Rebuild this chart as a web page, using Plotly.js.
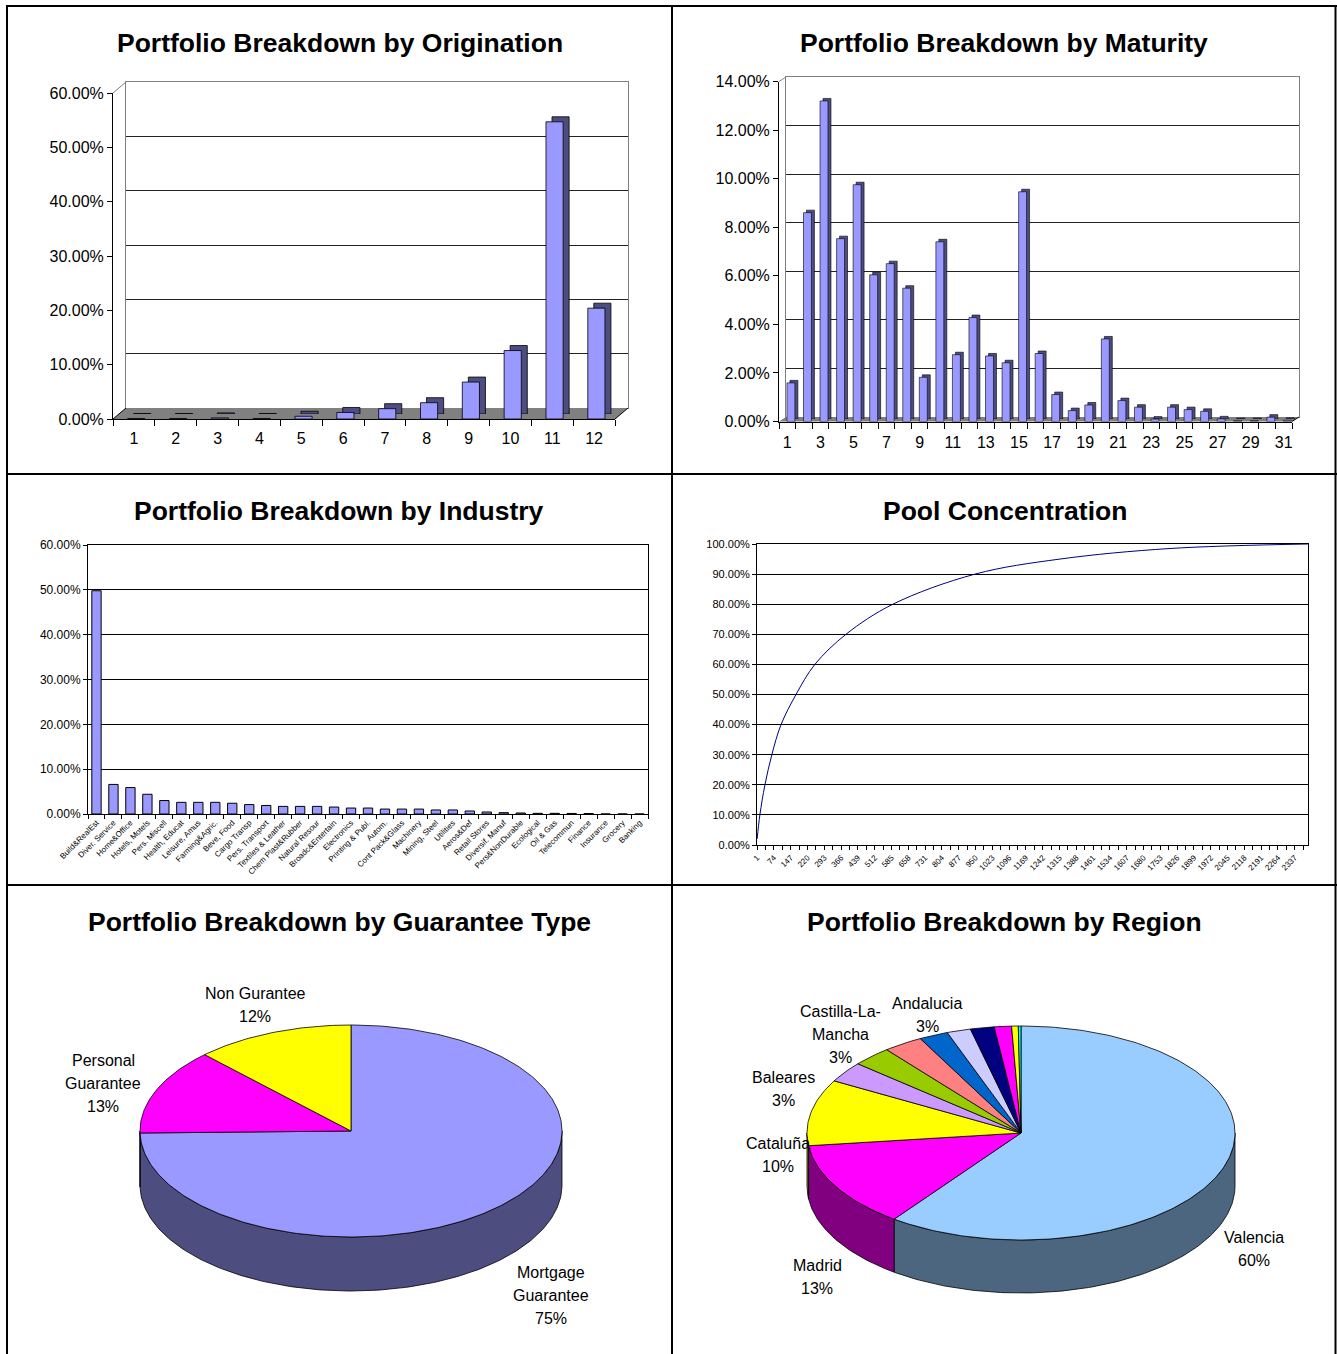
<!DOCTYPE html>
<html><head><meta charset="utf-8">
<script src="https://cdn.plot.ly/plotly-3.0.1.min.js"></script>
<style>html,body{margin:0;padding:0;background:#fff}#chart{width:1337px;height:1354px}</style>
</head><body><div id="chart"></div>
<script>
// ---------------- DATA ----------------
const origCats = ['1','2','3','4','5','6','7','8','9','10','11','12'];
const origVals = [0.001,0.001,0.002,0.001,0.005,0.012,0.019,0.030,0.068,0.126,0.547,0.204];

const matCats = [1,2,3,4,5,6,7,8,9,10,11,12,13,14,15,16,17,18,19,20,21,22,23,24,25,26,27,28,29,30,31];
const matVals = [0.0159,0.0860,0.1320,0.0753,0.0975,0.0604,0.0650,0.0549,0.0182,0.0740,0.0275,0.0428,0.0270,0.0242,
                 0.0946,0.0280,0.0111,0.0045,0.0068,0.0340,0.0086,0.0059,0.0010,0.0059,0.0049,0.0042,0.0011,0.0004,0.0004,0.0018,0.0005];
const matTickVals = [1,3,5,7,9,11,13,15,17,19,21,23,25,27,29,31];

const indCats = ['Build&RealEst','Diver. Service','Home&Office','Hotels, Motels','Pers. Miscell','Health, Educat','Leisure, Amus',
  'Farming&Agric.','Beve, Food','Cargo Transp','Pers. Transport','Textiles & Leather','Chem Plast&Rubber','Natural Resour',
  'Broadc&Entertain','Electronics','Printing & Publ.','Autom.','Cont Pack&Glass','Machinery','Mining, Steel','Utilities',
  'Aeros&Def','Retail Stores','Diversif. Manuf','Pers&NonDurable','Ecological','Oil & Gas','Telecommun','Finance',
  'Insurance','Grocery','Banking'];
const indVals = [0.498,0.066,0.059,0.044,0.030,0.026,0.026,0.026,0.024,0.021,0.019,0.017,0.017,0.017,0.0155,0.0133,0.0133,
  0.011,0.011,0.011,0.009,0.009,0.0067,0.0045,0.003,0.0022,0.0015,0.0015,0.0012,0.001,0,0,0];

const poolX = [1,13,35,65,105,170,252,387,591,948,1317,1795,2394];
const poolY = [0.02,0.10,0.20,0.30,0.40,0.50,0.60,0.70,0.80,0.90,0.95,0.985,1.0];
const poolTicks = [1,74,147,220,293,366,439,512,585,658,731,804,877,950,1023,1096,1169,1242,1315,1388,1461,1534,1607,1680,1753,1826,1899,1972,2045,2118,2191,2264,2337];

const guarLabels = ['Mortgage Guarantee','Personal Guarantee','Non Gurantee'];
const guarVals = [74.7,13.1,12.2];

const regionLabels = ['Valencia','Madrid','Cataluña','Baleares','Castilla-La-Mancha','Andalucia','R7','R8','R9','R10','R11','R12'];
const regionVals = [60.1,13.0,10.0,3.1,3.0,3.0,2.2,1.8,1.8,1.3,0.5,0.2];

// ---------------- STYLE / LAYOUT HELPERS ----------------
const W = 1337, H = 1354;
const FONT = "'Liberation Sans',Arial,sans-serif";
const X = p => p / W, Y = p => 1 - p / H;
const dX = (a, b) => [X(a), X(b)];
const dY = (top, bot) => [Y(bot), Y(top)];

const traces = [];
const layout = {
  width: W, height: H, margin: {l:0, r:0, t:0, b:0},
  paper_bgcolor: '#fff', plot_bgcolor: 'rgba(0,0,0,0)',
  showlegend: false, hovermode: false, shapes: [], annotations: []
};

function hidden(domain, range, type, anchor) {
  return {domain, range, type: type || 'linear', visible: false, fixedrange: true, anchor};
}
function darken(hex) {
  const n = parseInt(hex.slice(1), 16);
  const r = (n >> 16) & 255, g = (n >> 8) & 255, b = n & 255;
  return 'rgb(' + Math.round(r / 2) + ',' + Math.round(g / 2) + ',' + Math.round(b / 2) + ')';
}
function line(x0, y0, x1, y1, color, width) {
  layout.shapes.push({type: 'line', xref: 'paper', yref: 'paper', x0: X(x0), y0: Y(y0), x1: X(x1), y1: Y(y1),
    line: {color: color || '#000', width: width || 1}, layer: 'above'});
}
function poly(pts, fill) {
  let d = pts.map((p, i) => (i ? 'L' : 'M') + X(p[0]) + ',' + Y(p[1])).join(' ') + ' Z';
  layout.shapes.push({type: 'path', xref: 'paper', yref: 'paper', path: d, fillcolor: fill, line: {width: 0}, layer: 'below'});
}
function title(text, cx, cy) {
  layout.annotations.push({xref: 'paper', yref: 'paper', x: X(cx), y: Y(cy), xanchor: 'center', yanchor: 'middle',
    showarrow: false, text: text, font: {family: FONT, size: 26.5, color: '#000', weight: 700}});
}
// an empty trace so that a wall-only subplot is created and drawn
function wallTrace(xa, ya) {
  traces.push({type: 'scatter', mode: 'markers', x: [], y: [], xaxis: xa, yaxis: ya, hoverinfo: 'skip'});
}

const BAR = '#9999ff', BARSIDE = '#4d4d80';
const TICKF = {family: FONT, size: 16, color: '#000'};

// ---------------- CHART 1: ORIGINATION (3D columns) ----------------
{
  const f = {l: 113, r: 615, t: 93, b: 419};   // front plane
  const back = {x: 13, y: -11}, mid = {x: 6, y: -5};
  layout.xaxis = {domain: dX(f.l + back.x, f.r + back.x), range: [0, 1], anchor: 'y', showticklabels: false, ticks: '',
    showline: true, mirror: true, linecolor: '#808080', showgrid: false, zeroline: false, fixedrange: true};
  layout.yaxis = {domain: dY(f.t + back.y, f.b + back.y), range: [0, 0.6], dtick: 0.1, anchor: 'x', showticklabels: false, ticks: '',
    showgrid: true, gridcolor: '#222', gridwidth: 1, zeroline: false, showline: true, mirror: true, linecolor: '#808080', fixedrange: true};
  wallTrace('x', 'y');
  layout.xaxis2 = hidden(dX(f.l + mid.x, f.r + mid.x), [-0.5, 11.5], 'category', 'y2');
  layout.yaxis2 = hidden(dY(f.t + mid.y, f.b + mid.y), [0, 0.6], 'linear', 'x2');
  layout.xaxis3 = {domain: dX(f.l, f.r), type: 'category', range: [-0.5, 11.5], anchor: 'y3', tickson: 'boundaries',
    ticks: 'outside', ticklen: 6, tickcolor: '#000', showline: true, linecolor: '#000', showgrid: false, zeroline: false,
    ticklabelstandoff: 5, tickfont: TICKF, fixedrange: true};
  layout.yaxis3 = {domain: dY(f.t, f.b), range: [0, 0.6], dtick: 0.1, tickformat: '.2%', anchor: 'x3', ticks: 'outside',
    ticklen: 5, tickcolor: '#000', showline: true, linecolor: '#000', showgrid: false, zeroline: false,
    tickfont: TICKF, fixedrange: true};
  poly([[f.l, f.b], [f.r, f.b], [f.r + back.x, f.b + back.y], [f.l + back.x, f.b + back.y]], '#808080');
  line(f.l, f.t, f.l + back.x, f.t + back.y, '#808080');
  line(f.l, f.b, f.l + back.x, f.b + back.y, '#000');
  line(f.r, f.b, f.r + back.x, f.b + back.y, '#000');
  const common = {type: 'bar', x: origCats, y: origVals, width: 0.41, offset: -0.15, hoverinfo: 'skip'};
  traces.push(Object.assign({}, common, {xaxis: 'x2', yaxis: 'y2', marker: {color: BARSIDE, line: {color: '#000', width: 0.8}}}));
  traces.push(Object.assign({}, common, {xaxis: 'x3', yaxis: 'y3', marker: {color: BAR, line: {color: '#000', width: 0.8}}}));
  title('Portfolio Breakdown by Origination', 339.5, 43);
}

// ---------------- CHART 2: MATURITY (3D columns) ----------------
{
  const f = {l: 779, r: 1292, t: 81.5, b: 421.5};
  const back = {x: 7, y: -4.5}, mid = {x: 3, y: -2.5};
  layout.xaxis4 = {domain: dX(f.l + back.x, f.r + back.x), range: [0.5, 31.5], anchor: 'y4', showticklabels: false, ticks: '',
    showline: true, mirror: true, linecolor: '#808080', showgrid: false, zeroline: false, fixedrange: true};
  layout.yaxis4 = {domain: dY(f.t + back.y, f.b + back.y), range: [0, 0.14], dtick: 0.02, anchor: 'x4', showticklabels: false, ticks: '',
    showgrid: true, gridcolor: '#222', zeroline: false, showline: true, mirror: true, linecolor: '#808080', fixedrange: true};
  wallTrace('x4', 'y4');
  layout.xaxis5 = hidden(dX(f.l + mid.x, f.r + mid.x), [0.5, 31.5], 'linear', 'y5');
  layout.yaxis5 = hidden(dY(f.t + mid.y, f.b + mid.y), [0, 0.14], 'linear', 'x5');
  layout.xaxis6 = {domain: dX(f.l, f.r), range: [0.5, 31.5], anchor: 'y6', tickmode: 'array', tickvals: matTickVals,
    ticks: '', showline: true, linecolor: '#000', showgrid: false, zeroline: false,
    minor: {tick0: 0.5, dtick: 1, ticks: 'outside', ticklen: 6, tickcolor: '#000', showgrid: false},
    ticklabelstandoff: 6, tickfont: TICKF, fixedrange: true};
  layout.yaxis6 = {domain: dY(f.t, f.b), range: [0, 0.14], dtick: 0.02, tickformat: '.2%', anchor: 'x6', ticks: 'outside',
    ticklen: 5, tickcolor: '#000', showline: true, linecolor: '#000', showgrid: false, zeroline: false,
    tickfont: TICKF, fixedrange: true};
  poly([[f.l, f.b], [f.r, f.b], [f.r + back.x, f.b + back.y], [f.l + back.x, f.b + back.y]], '#808080');
  line(f.l, f.t, f.l + back.x, f.t + back.y, '#808080');
  line(f.r, f.b, f.r + back.x, f.b + back.y, '#000');
  const common = {type: 'bar', x: matCats, y: matVals, width: 0.48, offset: -0.02, hoverinfo: 'skip'};
  traces.push(Object.assign({}, common, {xaxis: 'x5', yaxis: 'y5', marker: {color: BARSIDE, line: {color: '#000', width: 0.6}}}));
  traces.push(Object.assign({}, common, {xaxis: 'x6', yaxis: 'y6', marker: {color: BAR, line: {color: '#000', width: 0.6}}}));
  title('Portfolio Breakdown by Maturity', 1004, 43);
}

// ---------------- CHART 3: INDUSTRY ----------------
{
  layout.xaxis7 = {domain: dX(88, 648), type: 'category', anchor: 'y7', tickson: 'boundaries', ticks: 'outside', ticklen: 4,
    tickcolor: '#000', tickangle: -45, tickmode: 'linear', dtick: 1, showline: true, mirror: true, linecolor: '#000',
    showgrid: false, zeroline: false, tickfont: {family: FONT, size: 8, color: '#000'}, fixedrange: true};
  layout.yaxis7 = {domain: dY(545, 814), range: [0, 0.6], dtick: 0.1, tickformat: '.2%', anchor: 'x7', ticks: 'outside',
    ticklen: 4, tickcolor: '#000', showline: true, mirror: true, linecolor: '#000', showgrid: true, gridcolor: '#000',
    zeroline: false, tickfont: {family: FONT, size: 12, color: '#000'}, fixedrange: true};
  traces.push({type: 'bar', x: indCats, y: indVals, xaxis: 'x7', yaxis: 'y7', width: 0.55, hoverinfo: 'skip',
    marker: {color: BAR, line: {color: '#000', width: 1}}});
  title('Portfolio Breakdown by Industry', 339, 511.5);
}

// ---------------- CHART 4: POOL CONCENTRATION ----------------
{
  layout.xaxis8 = {domain: dX(757, 1308), range: [0.5, 2394.5], anchor: 'y8', tickmode: 'array', tickvals: poolTicks,
    ticktext: poolTicks.map(String), ticks: 'outside', ticklen: 4, tickcolor: '#000', tickangle: -45,
    minor: {tick0: 37.5, dtick: 73, ticks: 'outside', ticklen: 4, tickcolor: '#000', showgrid: false},
    showline: true, mirror: true, linecolor: '#000', showgrid: false, zeroline: false,
    tickfont: {family: FONT, size: 8, color: '#000'}, fixedrange: true};
  layout.yaxis8 = {domain: dY(544, 845), range: [0, 1], dtick: 0.1, tickformat: '.2%', anchor: 'x8', ticks: 'outside',
    ticklen: 4, tickcolor: '#000', showline: true, mirror: true, linecolor: '#000', showgrid: true, gridcolor: '#000',
    zeroline: false, tickfont: {family: FONT, size: 11, color: '#000'}, fixedrange: true};
  traces.push({type: 'scatter', mode: 'lines', x: poolX, y: poolY, xaxis: 'x8', yaxis: 'y8', hoverinfo: 'skip',
    line: {color: '#000080', width: 1, shape: 'spline', smoothing: 1}});
  title('Pool Concentration', 1004.5, 511.5);
}

// ---------------- 3D PIES ----------------
function pie3d(vals, colors, g, xa, ya) {
  const total = vals.reduce((a, b) => a + b, 0);
  const pt = (t, dy) => { const r = t * Math.PI / 180; return [g.cx + g.rx * Math.sin(r), g.cy - g.ry * Math.cos(r) + dy]; };
  const arc = (a0, a1, dy) => { const n = Math.max(2, Math.ceil(Math.abs(a1 - a0))); const out = [];
    for (let i = 0; i <= n; i++) out.push(pt(a0 + (a1 - a0) * i / n, dy)); return out; };
  let a = 0; const slices = [];
  vals.forEach((v, i) => { const a0 = a; a += v / total * 360; slices.push({a0, a1: a, c: colors[i]}); });
  const sideT = [], topT = [];
  slices.forEach(s => {
    const b0 = Math.max(s.a0, 90), b1 = Math.min(s.a1, 270);
    if (b1 > b0) {
      const pts = arc(b0, b1, 0).concat(arc(b1, b0, g.depth)); pts.push(pts[0]);
      sideT.push({type: 'scatter', mode: 'lines', x: pts.map(p => p[0]), y: pts.map(p => p[1]), xaxis: xa, yaxis: ya,
        fill: 'toself', fillcolor: darken(s.c), line: {color: '#000', width: 0.8}, hoverinfo: 'skip'});
    }
    const pts = [[g.cx, g.cy]].concat(arc(s.a0, s.a1, 0)); pts.push(pts[0]);
    topT.push({type: 'scatter', mode: 'lines', x: pts.map(p => p[0]), y: pts.map(p => p[1]), xaxis: xa, yaxis: ya,
      fill: 'toself', fillcolor: s.c, line: {color: '#000', width: 0.8}, hoverinfo: 'skip'});
  });
  traces.push(...sideT, ...topT);
}
// multi-line label, one annotation per line, 23px line pitch
function pieLabel(lines, cx, cy) {
  lines.forEach((t, i) => {
    const yy = cy + (i - (lines.length - 1) / 2) * 23;
    layout.annotations.push({xref: 'paper', yref: 'paper', x: X(cx), y: Y(yy), xanchor: 'center', yanchor: 'middle',
      showarrow: false, text: t, font: {family: FONT, size: 16, color: '#000'}});
  });
}

// Chart 5: Guarantee type
{
  layout.xaxis9 = hidden(dX(8, 671), [8, 671], 'linear', 'y9');
  layout.yaxis9 = hidden(dY(886, 1354), [1354, 886], 'linear', 'x9');
  const colors = ['#9999ff', '#ff00ff', '#ffff00'];
  pie3d(guarVals, colors, {cx: 351, cy: 1131, rx: 211, ry: 106, depth: 54}, 'x9', 'y9');
  const disp = [['Mortgage', 'Guarantee'], ['Personal', 'Guarantee'], ['Non Gurantee']];
  const pos = [[551, 1295], [103, 1083], [255, 1004.5]];
  guarVals.forEach((v, i) => pieLabel(disp[i].concat([Math.round(v) + '%']), pos[i][0], pos[i][1]));
  title('Portfolio Breakdown by Guarantee Type', 339.5, 921.5);
}

// Chart 6: Region
{
  layout.xaxis10 = hidden(dX(673, 1335), [673, 1335], 'linear', 'y10');
  layout.yaxis10 = hidden(dY(886, 1354), [1354, 886], 'linear', 'x10');
  const colors = ['#99ccff', '#ff00ff', '#ffff00', '#cc99ff', '#99cc00', '#ff8080', '#0066cc', '#ccccff', '#000080', '#ff00ff', '#ffff00', '#00ffff'];
  pie3d(regionVals, colors, {cx: 1021, cy: 1133, rx: 214, ry: 107, depth: 53}, 'x10', 'y10');
  const disp = [['Valencia'], ['Madrid'], ['Cataluña'], ['Baleares'], ['Castilla-La-', 'Mancha'], ['Andalucia']];
  const pos = [[1254, 1248.5], [817, 1276.5], [778, 1154.5], [784, 1088.5], [840, 1034], [927, 1014.5]];
  disp.forEach((d, i) => pieLabel(d.concat([Math.round(regionVals[i]) + '%']), pos[i][0], pos[i][1]));
  title('Portfolio Breakdown by Region', 1004, 921.5);
}

// ---------------- TABLE GRID ----------------
line(7, 5, 7, 1354, '#000', 2);
line(672, 5, 672, 1354, '#000', 2);
line(1335.5, 5, 1335.5, 1354, '#000', 2);
line(6, 6, 1337, 6, '#000', 2);
line(6, 474, 1337, 474, '#000', 2);
line(6, 885, 1337, 885, '#000', 2);

Plotly.newPlot('chart', traces, layout, {staticPlot: true, displayModeBar: false});
</script></body></html>
